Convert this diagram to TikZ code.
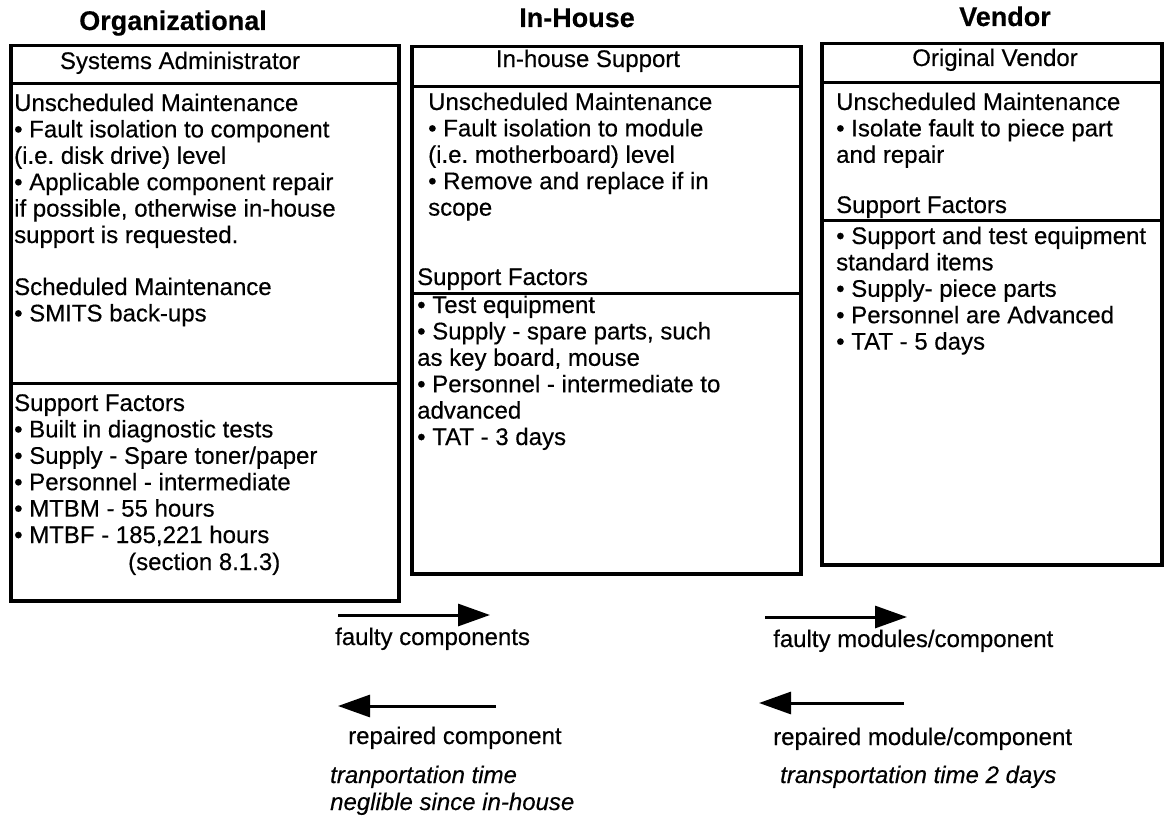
\documentclass[tikz,border=0pt]{standalone}
\usepackage{fontspec}
\setmainfont{Liberation Sans}[FakeBold=0.4]
\usetikzlibrary{arrows.meta}
\frenchspacing

% a left-aligned block whose baseline is that of its first line
\newcommand\txtblock[1]{\begin{tabular}[t]{@{}l@{}}#1\end{tabular}}

\begin{document}
\begin{tikzpicture}[x=1pt,y=-1pt,
  panel/.style={draw, line width=3.5pt, anchor=north west, inner sep=0pt},
  divider/.style={line width=3pt},
  body/.style={anchor=base west, inner sep=0pt, font=\fontsize{24}{26.4}\selectfont\frenchspacing},
  headtxt/.style={anchor=base, inner sep=0pt, font=\fontsize{24}{26.4}\selectfont},
  coltitle/.style={anchor=base, inner sep=0pt, font=\fontsize{27}{30}\selectfont\bfseries},
  emph/.style={body, font=\fontsize{24}{27}\selectfont\itshape},
  flow/.style={line width=3pt, -{Triangle[length=32pt, width=22pt]}}]

\useasboundingbox (0,0) rectangle (1167,816);

% column titles
\node[coltitle] (t1) at (173,30) {Organizational};
\node[coltitle] (t2) at (577,27) {In-House};
\node[coltitle] (t3) at (1005,26) {Vendor};

% panels
\node[panel, minimum width=388pt, minimum height=555pt] (p1) at (9,44) {};
\node[panel, minimum width=389pt, minimum height=527pt] (p2) at (410,45) {};
\node[panel, minimum width=340pt, minimum height=521pt] (p3) at (820,42) {};

\draw[divider] (p1.west |- 0,83) -- (p1.east |- 0,83);
\draw[divider] (p1.west |- 0,383) -- (p1.east |- 0,383);
\draw[divider] (p2.west |- 0,86) -- (p2.east |- 0,86);
\draw[divider] (p2.west |- 0,293) -- (p2.east |- 0,293);
\draw[divider] (p3.west |- 0,82) -- (p3.east |- 0,82);
\draw[divider] (p3.west |- 0,220) -- (p3.east |- 0,220);

% panel headers
\node[headtxt] (h1) at (180,69) {Systems Administrator};
\node[headtxt] (h2) at (588,67) {In-house Support};
\node[headtxt] (h3) at (995,66) {Original Vendor};

% organizational panel
\node[body] (o1) at (14,111) {\txtblock{Unscheduled Maintenance\\
  • Fault isolation to component\\
  (i.e. disk drive) level\\
  • Applicable component repair\\
  if possible, otherwise in-house\\
  support is requested.}};
\node[body] (o2) at (14,295) {\txtblock{Scheduled Maintenance\\
  • SMITS back-ups}};
\node[body] (o3) at (14,411) {\txtblock{Support Factors\\
  • Built in diagnostic tests\\
  • Supply - Spare toner/paper\\
  • Personnel - intermediate\\
  • MTBM - 55 hours\\
  • MTBF - 185,221 hours}};
\node[body] (o4) at (128,570) {(section 8.1.3)};

% in-house panel
\node[body] (i1) at (428,110) {\txtblock{Unscheduled Maintenance\\
  • Fault isolation to module\\
  (i.e. motherboard) level\\
  • Remove and replace if in\\
  scope}};
\node[body] (i2) at (417,285) {Support Factors};
\node[body] (i3) at (417,313) {\txtblock{• Test equipment\\
  • Supply - spare parts, such\\
  as key board, mouse\\
  • Personnel - intermediate to\\
  advanced\\
  • TAT - 3 days}};

% vendor panel
\node[body] (v1) at (836,110) {\txtblock{Unscheduled Maintenance\\
  • Isolate fault to piece part\\
  and repair}};
\node[body] (v2) at (836,213) {Support Factors};
\node[body] (v3) at (836,244) {\txtblock{• Support and test equipment\\
  standard items\\
  • Supply- piece parts\\
  • Personnel are Advanced\\
  • TAT - 5 days}};

% flows between organizational and in-house
\coordinate (fa1) at (338,615);
\coordinate (fa2) at (490,615);
\draw[flow] (fa1) -- (fa2);
\node[body] (fal) at (335,645) {faulty components};
\coordinate (ra1) at (496,706);
\coordinate (ra2) at (338,706);
\draw[flow] (ra1) -- (ra2);
\node[body] (ral) at (348,744) {repaired component};
\node[emph] (rat) at (330,783) {\txtblock{tranportation time\\ neglible since in-house}};

% flows between in-house and vendor
\coordinate (fb1) at (765,617);
\coordinate (fb2) at (907,617);
\draw[flow] (fb1) -- (fb2);
\node[body] (fbl) at (773,647) {faulty modules/component};
\coordinate (rb1) at (904,703);
\coordinate (rb2) at (759,703);
\draw[flow] (rb1) -- (rb2);
\node[body] (rbl) at (773,745) {repaired module/component};
\node[emph] (rbt) at (780,783) {transportation time 2 days};

\end{tikzpicture}
\end{document}
